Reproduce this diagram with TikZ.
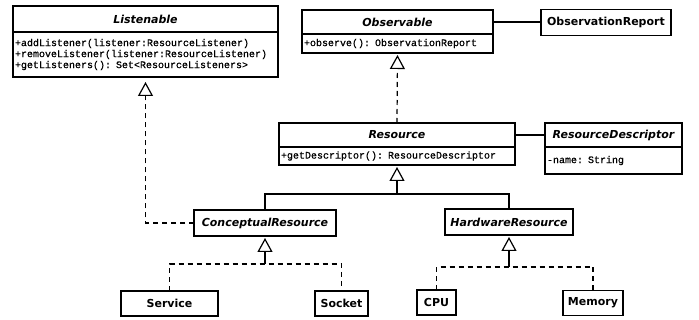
\documentclass[tikz,border=0pt]{standalone}
\usepackage{fontspec}
\setsansfont{DejaVu Sans}
\setmonofont{Liberation Mono}[FakeBold=0.6]
\usepackage{tikz}
\usetikzlibrary{arrows.meta, positioning}

\begin{document}
\begin{tikzpicture}[x=1pt, y=1pt,
		box/.style={draw, line width=1.2pt, outer sep=0pt, inner sep=0pt,
			font=\sffamily\bfseries\fontsize{11}{13}\selectfont},
		classhead/.style={box, font=\sffamily\bfseries\itshape\fontsize{11}{13}\selectfont},
		opsbox/.style={draw, line width=1.2pt, outer sep=0pt, inner xsep=2pt, inner ysep=0pt,
			align=left, text width=#1, font=\ttfamily\fontsize{10}{11}\selectfont},
		gen/.style={line width=1.2pt, -{Triangle[open, width=15pt, length=14pt]}, shorten >=2pt},
		real/.style={gen, dash pattern=on 5pt off 4pt}]
	
	\useasboundingbox (0,0) rectangle (699,-320);
	
	% interfaces
	\node[classhead, minimum width=265pt, minimum height=26pt] (listenable) at (145.5,-19) {Listenable};
	\node[opsbox=261pt, minimum height=45pt, below=0pt of listenable] (listenableops)
		{+addListener(listener:ResourceListener)\\+removeListener(listener:ResourceListener)\\+getListeners(): Set<ResourceListeners>};
	
	\node[classhead, minimum width=191pt, minimum height=24pt] (observable) at (397.5,-22) {Observable};
	\node[opsbox=187pt, minimum height=19pt, below=0pt of observable] (observableops)
		{+observe(): ObservationReport};
	\node[box, minimum width=130pt, minimum height=26pt] (obsreport) at (606,-22.5) {ObservationReport};
	
	% resource
	\node[classhead, minimum width=236pt, minimum height=24pt] (resource) at (397,-135) {Resource};
	\node[opsbox=232pt, minimum height=18pt, below=0pt of resource] (resourceops)
		{+getDescriptor(): ResourceDescriptor};
	\node[classhead, minimum width=137pt, minimum height=24pt] (resdesc) at (613.5,-135) {ResourceDescriptor};
	\node[opsbox=133pt, minimum height=27pt, below=0pt of resdesc] (resdescops)
		{-name: String\\[9pt]};
	
	% subclasses
	\node[classhead, minimum width=142pt, minimum height=26pt] (conceptual) at (265,-223) {ConceptualResource};
	\node[classhead, minimum width=128pt, minimum height=26pt] (hardware) at (509,-222) {HardwareResource};
	
	\node[box, minimum width=97pt, minimum height=25pt] (service) at (169.5,-303.5) {Service};
	\node[box, minimum width=53pt, minimum height=25pt] (socket) at (341.5,-303.5) {Socket};
	\node[box, minimum width=39pt, minimum height=25pt] (cpu) at (436.5,-302.5) {CPU};
	\node[box, minimum width=60pt, minimum height=25pt] (memory) at (593,-303) {Memory};
	
	% joins
	\coordinate (resjoin) at (397,-194);
	\coordinate (conjoin) at (265,-264);
	\coordinate (hwjoin) at (509,-267);
	
	% associations
	\draw[line width=1.2pt] (observable.east) -- (observable.east -| obsreport.west);
	\draw[line width=1.2pt] (resource.east) -- (resdesc.west);
	
	% realizations
	\draw[real, shorten >=5pt] (conceptual.west) -| (listenableops.south);
	\draw[real] (resource.north) -- (observableops.south);
	
	% generalizations
	\draw[line width=1.2pt] (conceptual.north) |- (resjoin) -| (hardware.north);
	\draw[gen] (resjoin) -- (resourceops.south);
	
	\draw[line width=1.2pt, dash pattern=on 5pt off 4pt] (service.north) |- (conjoin) -| (socket.north);
	\draw[gen] (conjoin) -- (conceptual.south);
	
	\draw[line width=1.2pt, dash pattern=on 5pt off 4pt] (cpu.north) |- (hwjoin) -| (memory.north);
	\draw[gen] (hwjoin) -- (hardware.south);
	
\end{tikzpicture}
\end{document}
